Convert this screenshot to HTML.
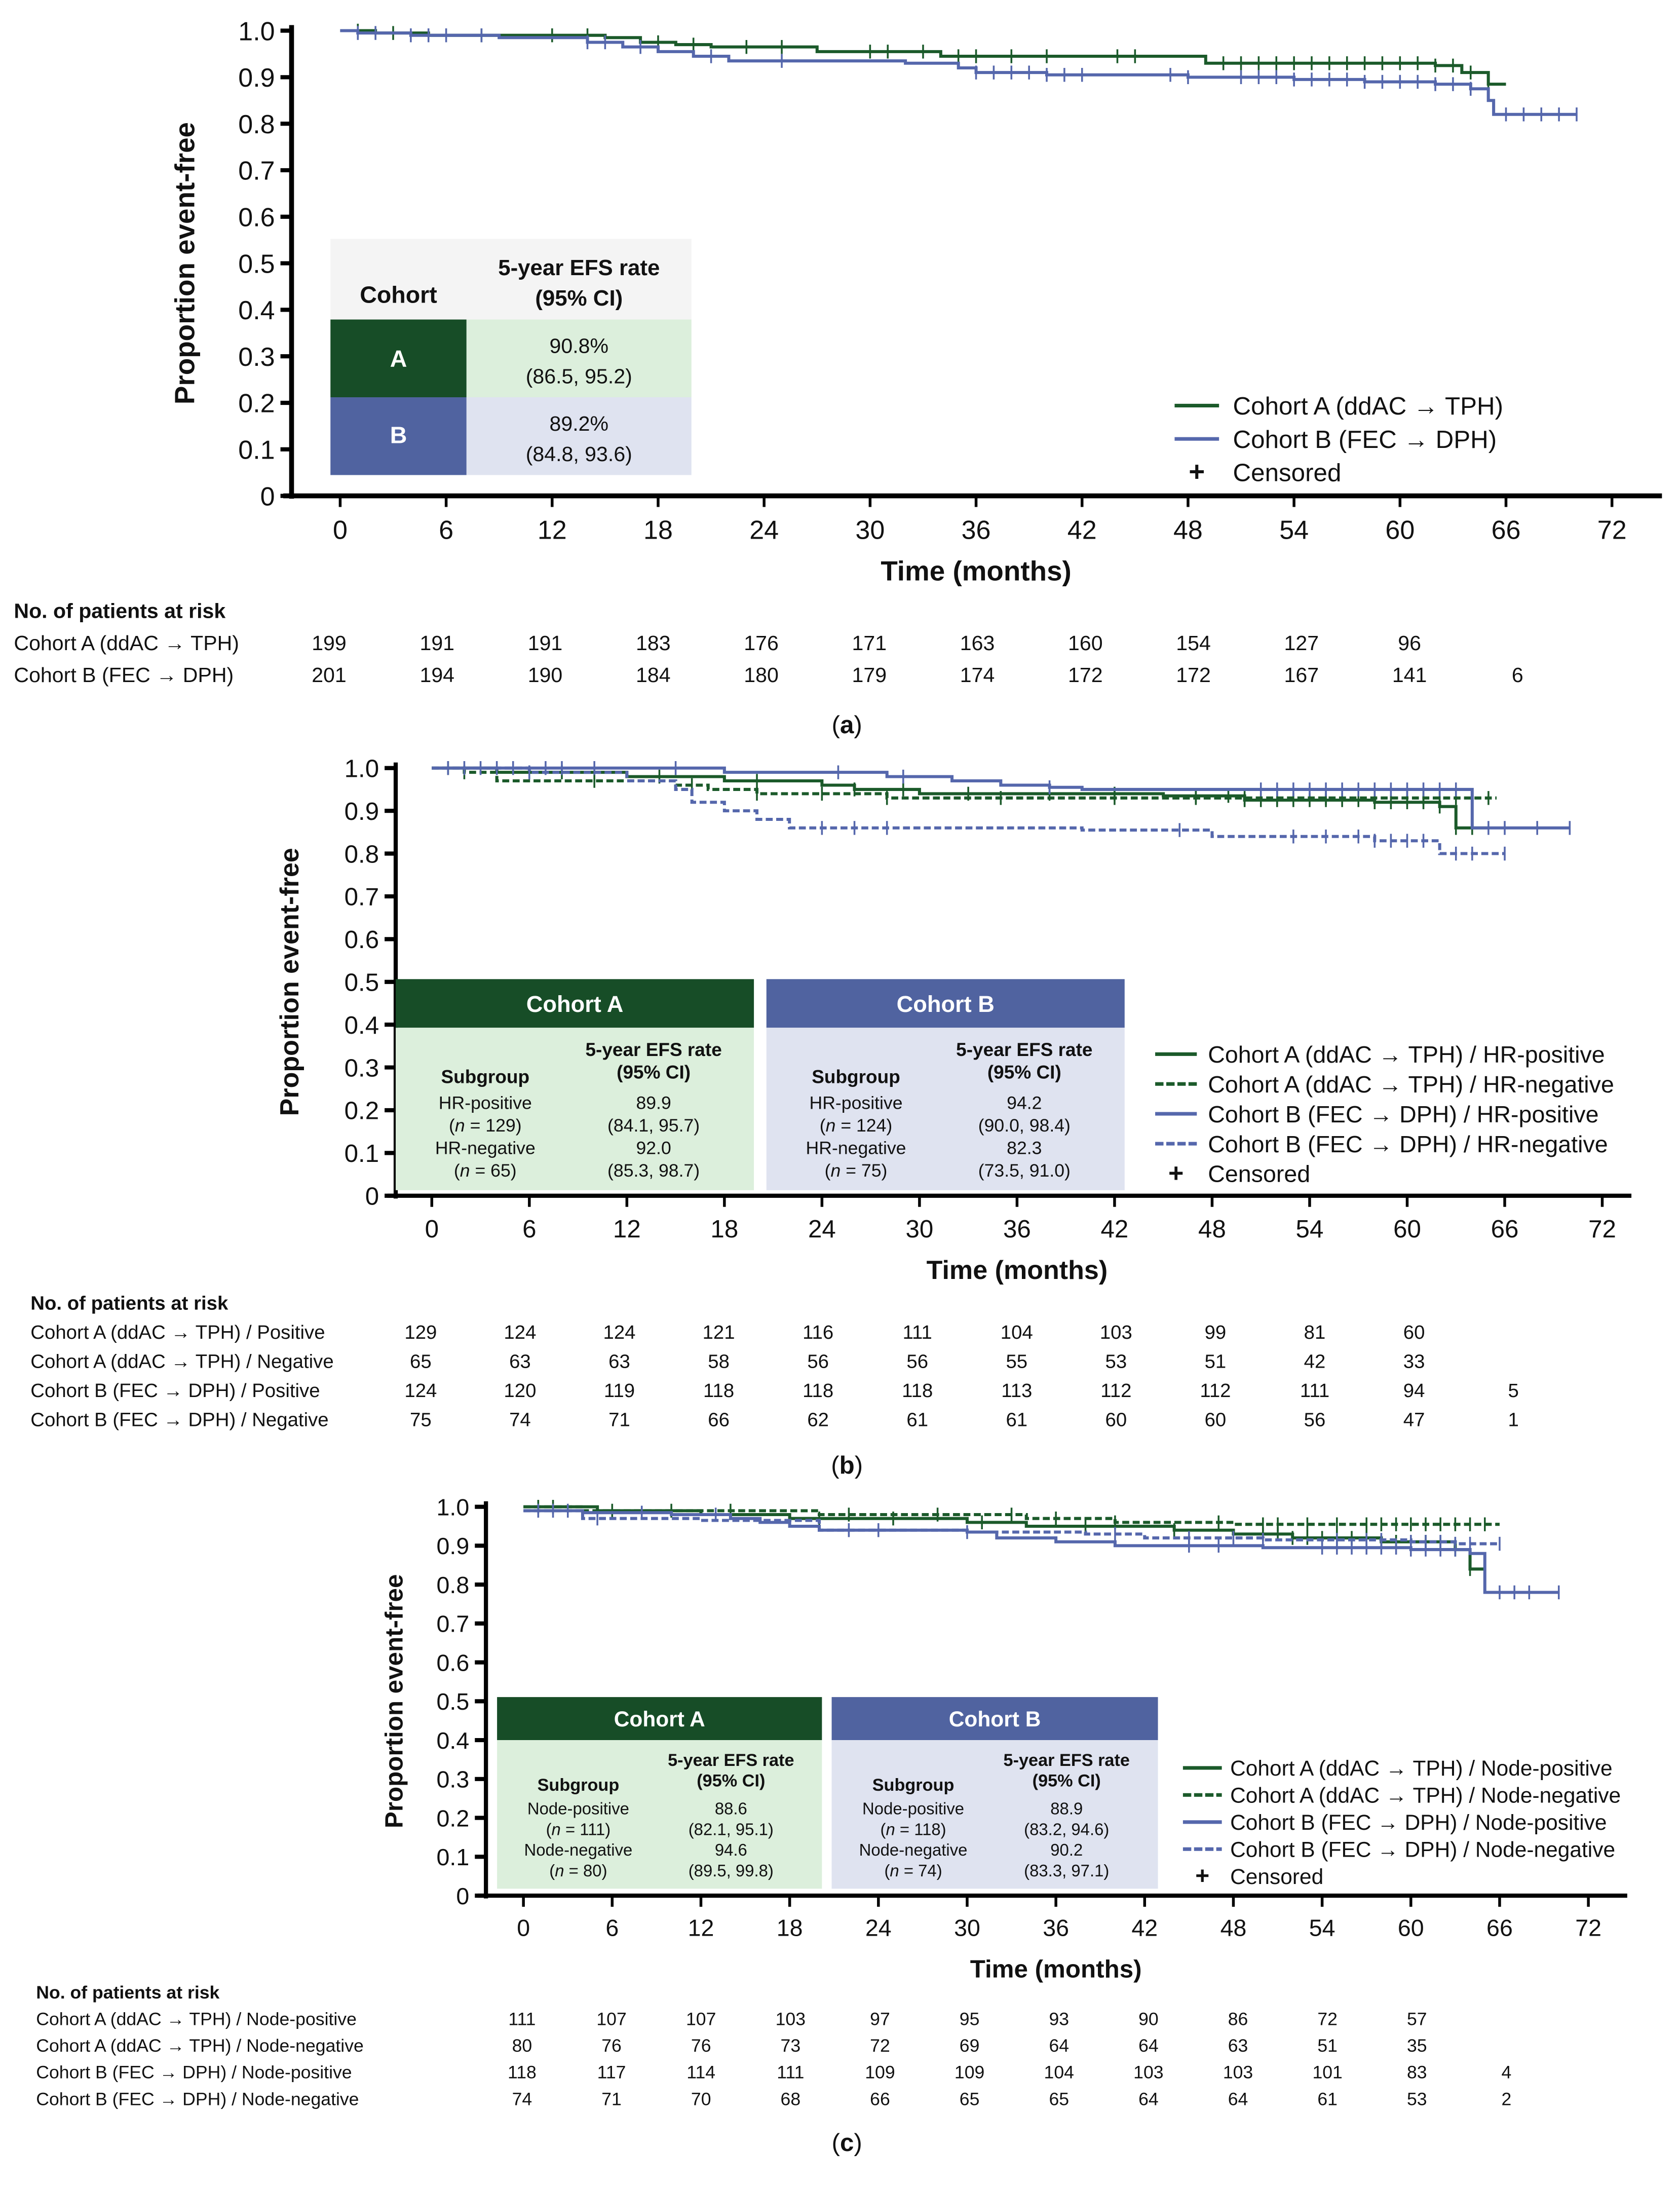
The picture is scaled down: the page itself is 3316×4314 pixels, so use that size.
<!DOCTYPE html>
<html><head><meta charset="utf-8"><style>
html,body{margin:0;padding:0;background:#fff;width:3316px;height:4314px;overflow:hidden}
svg{display:block}
text{font-family:"Liberation Sans",sans-serif;fill:#111}
</style></head><body>
<svg id="fig" xmlns="http://www.w3.org/2000/svg" width="3316" height="4314" viewBox="0 0 1210 1574"></svg>
<script>
// ===== Panel data =====
const ticksX=[0,6,12,18,24,30,36,42,48,54,60,66,72];
const ticksY=[0,0.1,0.2,0.3,0.4,0.5,0.6,0.7,0.8,0.9,1.0];
// Panel a
const aTimesA=[0,2,5,15,17,19,21,27,34,49,62,63.5,65];
const aValsA=[1,0.995,0.99,0.985,0.975,0.97,0.965,0.955,0.945,0.93,0.925,0.91,0.885];
const aCensA=[1,3,8,12,14,18,20,23,25,30,31,33,35,36,38,40,44,45,50,51,52,53,54,55,56,57,58,59,60,61,62,63,64,65];
const aTimesB=[0,1,4,9,14,16,18,20,22,32,35,36,40,48,54,58,62,64,65,65.3];
const aValsB=[1,0.995,0.99,0.985,0.975,0.965,0.955,0.945,0.935,0.93,0.92,0.91,0.905,0.9,0.895,0.89,0.885,0.875,0.85,0.82];
const aEndB=70;
const aCensB=[1,2,4,5,6,8,14,15,17,21,25,36,37,38,39,40,41,42,47,48,51,52,53,54,55,56,57,58,59,60,61,62,63,64,66,67,68,69,70];
const aRiskA=["199","191","191","183","176","171","163","160","154","127","96",""];
const aRiskB=["201","194","190","184","180","179","174","172","172","167","141","6"];
// Panel b
const bT1=[0,4,12,18,24,26,30,45,50,58,62,63],bV1=[1,0.99,0.98,0.97,0.96,0.95,0.94,0.935,0.925,0.92,0.91,0.86];
const bT2=[0,2,4,15,17,20,28],bV2=[1,0.99,0.97,0.96,0.95,0.94,0.93];
const bT3=[0,12,18,28,32,35,38,40,64],bV3=[1,1.0,0.99,0.98,0.97,0.96,0.955,0.95,0.86];
const bT4=[0,6,12,15,16,18,20,22,40,48,58,62],bV4=[1,0.99,0.97,0.95,0.92,0.9,0.88,0.86,0.855,0.84,0.83,0.8];
const bEnd=[65,65.5,70,66];
const bCens1=[1,8,14,20,26,29,33,38,42,47,49,50,51,52,53,54,55,56,57,58,59,60,61,62,63,64];
const bCens2=[2,10,16,20,24,28,35,42,47,50,52,55,58,60,61,62,63,64,65];
const bCens3=[1,3,5,7,8,10,15,25,29,38,51,52,53,54,55,56,57,58,59,60,61,62,63,65,66,68,70];
const bCens4=[2,4,6,24,26,28,46,53,55,57,58,59,60,61,63,64,66];
const bRisk1=["129","124","124","121","116","111","104","103","99","81","60",""];
const bRisk2=["65","63","63","58","56","56","55","53","51","42","33",""];
const bRisk3=["124","120","119","118","118","118","113","112","112","111","94","5"];
const bRisk4=["75","74","71","66","62","61","61","60","60","56","47","1"];
// Panel c
const cT1=[0,5,12,18,30,34,44,48,52,58,63,64],cV1=[1,0.99,0.98,0.97,0.96,0.95,0.94,0.93,0.92,0.91,0.89,0.84];
const cT2=[0,4,15,20,34,40,48],cV2=[1,0.99,0.99,0.98,0.97,0.96,0.955];
const cT3=[0,4,10,14,16,18,20,30,32,36,40,50,60,64,65],cV3=[0.99,0.985,0.98,0.97,0.96,0.95,0.94,0.935,0.92,0.91,0.9,0.895,0.89,0.88,0.78];
const cT4=[0,4,12,20,30,38,42,50,60,63],cV4=[0.99,0.97,0.965,0.94,0.935,0.93,0.92,0.915,0.91,0.905];
const cEnd=[65,66,70,66];
const cCens1=[2,10,20,25,31,38,44,50,51,52,53,54,55,56,57,58,59,60,61,62,63,64,65];
const cCens2=[1,6,14,22,28,33,36,40,47,50,51,53,55,57,58,59,60,61,62,63,64,65];
const cCens3=[1,3,8,13,22,30,45,47,54,55,56,57,58,59,60,61,62,63,66,67,68,70];
const cCens4=[2,5,24,40,45,48,50,55,57,58,60,61,62,63,64,66];
const cRisk1=["111","107","107","103","97","95","93","90","86","72","57",""];
const cRisk2=["80","76","76","73","72","69","64","64","63","51","35",""];
const cRisk3=["118","117","114","111","109","109","104","103","103","101","83","4"];
const cRisk4=["74","71","70","68","66","65","65","64","64","61","53","2"];

const GREEN="#1b5a2a",BLUE="#5567ac";
const NS="http://www.w3.org/2000/svg";
const fig=document.getElementById('fig');
function el(tag,attrs,parent,txt){const e=document.createElementNS(NS,tag);for(const k in attrs)e.setAttribute(k,attrs[k]);if(txt!==undefined)e.textContent=txt;(parent||fig).appendChild(e);return e;}

function panel(P){
  const g=el('g',{},fig);
  
  
  const X=t=>P.x0+(P.x72-P.x0)*t/72;
  const Y=v=>P.y0+(P.y1-P.y0)*v;
  // axes
  const ax=el('line',{x1:P.ax,y1:P.y1-4,x2:P.ax,y2:P.y0+2,stroke:'#000','stroke-width':P.aw},g);
  
  const xa=el('line',{x1:P.ax-6,y1:P.y0,x2:P.xend,y2:P.y0,stroke:'#000','stroke-width':P.aw},g);
  
  ticksX.forEach(t=>{
    el('line',{x1:X(t),y1:P.y0,x2:X(t),y2:P.y0+8,stroke:'#000','stroke-width':2},g);
    const tl=el('text',{x:X(t),y:P.y0+P.fs+12,'font-size':P.fs,'text-anchor':'middle'},g,String(t));
    
  });
  ticksY.forEach(v=>{
    el('line',{x1:P.ax-8,y1:Y(v),x2:P.ax,y2:Y(v),stroke:'#000','stroke-width':3},g);
    const tl=el('text',{x:P.ax-12,y:Y(v)+P.fs*0.36,'font-size':P.fs,'text-anchor':'end'},g,v===0?'0':v.toFixed(1));
    
  });
  const xt=el('text',{x:(X(0)+X(72))/2,y:P.y0+P.fs+42,'font-size':P.fs+1,'font-weight':'bold','text-anchor':'middle'},g,'Time (months)');
  
  const yt=el('text',{x:0,y:0,'font-size':P.fs+1,'font-weight':'bold','text-anchor':'middle',transform:`translate(${P.ylx},${Y(0.5)}) rotate(-90)`},g,'Proportion event-free');
  
  // tables
  P.table(g);
  // curves
  P.series.forEach(s=>{
    let d=`M${X(s.t[0])},${Y(s.v[0])}`;
    for(let i=1;i<s.t.length;i++){d+=`H${X(s.t[i])}V${Y(s.v[i])}`;}
    d+=`H${X(s.end)}`;
    const p=el('path',{d,fill:'none',stroke:s.c,'stroke-width':2.2,'stroke-dasharray':s.dash?'5,2.5':'none'},g);
    
    const val=t=>{let v=s.v[0];for(let i=0;i<s.t.length;i++)if(s.t[i]<=t)v=s.v[i];return v;};
    s.cens.forEach(t=>{
      const m=el('line',{x1:X(t),y1:Y(val(t))-5,x2:X(t),y2:Y(val(t))+5,stroke:s.c,'stroke-width':1.3},g);
      
    });
  });
  // legend
  P.legend.forEach((L,i)=>{
    const y=P.lgY+i*P.lgDy;
    const lg=el('g',{},g);
    
    el('line',{x1:P.lgX,y1:y,x2:P.lgX+P.lgW,y2:y,stroke:L.c,'stroke-width':2.6,'stroke-dasharray':L.dash?'6,2':'none'},lg);
    el('text',{x:P.lgT,y:y+P.lfs*0.36,'font-size':P.lfs},lg,L.label);
  });
  const cy=P.lgY+P.legend.length*P.lgDy;
  const ce=el('g',{},g);
  
  el('text',{x:P.lgX+P.lgW/2,y:cy+P.lfs*0.36,'font-size':P.lfs+2,'font-weight':'bold','text-anchor':'middle'},ce,'+');
  el('text',{x:P.lgT,y:cy+P.lfs*0.36,'font-size':P.lfs},ce,'Censored');
  // risk table
  const rt=el('g',{},g);
  
  el('text',{x:P.rx,y:P.ry,'font-size':P.rfs,'font-weight':'bold'},rt,'No. of patients at risk');
  P.risk.forEach((r,i)=>{
    const y=P.ry+(i+1)*P.rdy;
    el('text',{x:P.rx,y,'font-size':P.rfs},rt,r.label);
    r.vals.forEach((v,j)=>{ if(v) el('text',{x:P.rcx[0]+(P.rcx[1]-P.rcx[0])*j/11,y,'font-size':P.rfs,'text-anchor':'middle'},rt,v); });
  });
  const cap=el('text',{x:610,y:P.capY,'font-size':18,'font-family':'Liberation Serif','text-anchor':'middle'},g);
  
  cap.innerHTML=`(<tspan font-weight="bold">${P.cap}</tspan>)`;
}

function rect(g,x,y,w,h,f){el('rect',{x,y,width:w,height:h,fill:f},g);}
function tx(g,x,y,s,fs,opt){const o=Object.assign({x,y,'font-size':fs,'text-anchor':'middle'},opt||{});return el('text',o,g,s);}

function subTable(g,x,w,yh,hh,yb,bh,title,dark,light,rows,fs){
  const t=el('g',{},g);
  
  
  rect(t,x,yh,w,hh,dark);rect(t,x,yb,w,bh,light);
  tx(t,x+w/2,yh+hh/2+fs*0.45,title,fs+3,{'font-weight':'bold',style:'fill:#fff'});
  const c1=x+w*0.25,c2=x+w*0.72;
  const r=bh/7.2;
  tx(t,c2,yb+r*1.25,'5-year EFS rate',fs,{'font-weight':'bold'});
  tx(t,c2,yb+r*2.25,'(95% CI)',fs,{'font-weight':'bold'});
  tx(t,c1,yb+r*2.45,'Subgroup',fs,{'font-weight':'bold'});
  rows.forEach((rw,i)=>{
    const y0=yb+r*(3.6+i*2);
    tx(t,c1,y0,rw[0],fs-0.5);
    const n=tx(t,c1,y0+r,'',fs-0.5);n.innerHTML=`(<tspan font-style="italic">n</tspan> = ${rw[1]})`;
    tx(t,c2,y0,rw[2],fs-0.5);tx(t,c2,y0+r,rw[3],fs-0.5);
  });
}

// Panel a
panel({name:'panel-a',x0:245,x72:1161,y0:357,y1:22,ax:210,aw:3.5,xend:1197,fs:19,ylx:140,
  table:g=>{
    const t=el('g',{},g);
    
    rect(t,238,172,260,58,'#f4f4f4');
    rect(t,238,230,98,56,'#174d27');rect(t,336,230,162,56,'#dcefdc');
    rect(t,238,286,98,56,'#5063a0');rect(t,336,286,162,56,'#dfe3f0');
    tx(t,287,218,'Cohort',17,{'font-weight':'bold'});
    tx(t,417,198,'5-year EFS rate',16,{'font-weight':'bold'});
    tx(t,417,220,'(95% CI)',16,{'font-weight':'bold'});
    tx(t,287,264,'A',17,{'font-weight':'bold',style:'fill:#fff'});
    tx(t,287,319,'B',17,{'font-weight':'bold',style:'fill:#fff'});
    tx(t,417,254,'90.8%',15);tx(t,417,276,'(86.5, 95.2)',15);
    tx(t,417,310,'89.2%',15);tx(t,417,332,'(84.8, 93.6)',15);
  },
  series:[
    {nm:'curve-cohort-a',t:aTimesA,v:aValsA,end:66,c:GREEN,cens:aCensA},
    {nm:'curve-cohort-b',t:aTimesB,v:aValsB,end:aEndB,c:BLUE,cens:aCensB}],
  legend:[{c:GREEN,label:'Cohort A (ddAC \u2192 TPH)'},{c:BLUE,label:'Cohort B (FEC \u2192 DPH)'}],
  lgX:846,lgW:32,lgT:888,lgY:292,lgDy:24,lfs:18,
  rx:10,ry:445,rdy:23,rfs:15,rcx:[237,1093],
  risk:[{label:'Cohort A (ddAC \u2192 TPH)',vals:aRiskA},{label:'Cohort B (FEC \u2192 DPH)',vals:aRiskB}],
  capY:528,cap:'a'});

// Panel b
panel({name:'panel-b',x0:311,x72:1154,y0:861,y1:553,ax:285,aw:3,xend:1175,fs:18,ylx:215,
  table:g=>{
    subTable(g,285,258,705,35,740,117,'Cohort A','#174d27','#dcefdc',[['HR-positive','129','89.9','(84.1, 95.7)'],['HR-negative','65','92.0','(85.3, 98.7)']],13.5);
    subTable(g,552,258,705,35,740,117,'Cohort B','#5063a0','#dfe3f0',[['HR-positive','124','94.2','(90.0, 98.4)'],['HR-negative','75','82.3','(73.5, 91.0)']],13.5);
  },
  series:[
    {nm:'curve-a-hr-positive',t:bT1,v:bV1,end:bEnd[0],c:GREEN,cens:bCens1},
    {nm:'curve-a-hr-negative',t:bT2,v:bV2,end:bEnd[1],c:GREEN,dash:1,cens:bCens2},
    {nm:'curve-b-hr-positive',t:bT3,v:bV3,end:bEnd[2],c:BLUE,cens:bCens3},
    {nm:'curve-b-hr-negative',t:bT4,v:bV4,end:bEnd[3],c:BLUE,dash:1,cens:bCens4}],
  legend:[{c:GREEN,label:'Cohort A (ddAC \u2192 TPH) / HR-positive'},{c:GREEN,dash:1,label:'Cohort A (ddAC \u2192 TPH) / HR-negative'},
    {c:BLUE,label:'Cohort B (FEC \u2192 DPH) / HR-positive'},{c:BLUE,dash:1,label:'Cohort B (FEC \u2192 DPH) / HR-negative'}],
  lgX:832,lgW:30,lgT:870,lgY:759,lgDy:21.5,lfs:17,
  rx:22,ry:943,rdy:21,rfs:14,rcx:[303,1090],
  risk:[{label:'Cohort A (ddAC \u2192 TPH) / Positive',vals:bRisk1},{label:'Cohort A (ddAC \u2192 TPH) / Negative',vals:bRisk2},
    {label:'Cohort B (FEC \u2192 DPH) / Positive',vals:bRisk3},{label:'Cohort B (FEC \u2192 DPH) / Negative',vals:bRisk4}],
  capY:1061,cap:'b'});

// Panel c
panel({name:'panel-c',x0:377,x72:1144,y0:1365,y1:1085,ax:350,aw:3,xend:1172,fs:17,ylx:290,
  table:g=>{
    subTable(g,358,234,1222,31,1253,107,'Cohort A','#174d27','#dcefdc',[['Node-positive','111','88.6','(82.1, 95.1)'],['Node-negative','80','94.6','(89.5, 99.8)']],12.5);
    subTable(g,599,235,1222,31,1253,107,'Cohort B','#5063a0','#dfe3f0',[['Node-positive','118','88.9','(83.2, 94.6)'],['Node-negative','74','90.2','(83.3, 97.1)']],12.5);
  },
  series:[
    {nm:'curve-a-node-positive',t:cT1,v:cV1,end:cEnd[0],c:GREEN,cens:cCens1},
    {nm:'curve-a-node-negative',t:cT2,v:cV2,end:cEnd[1],c:GREEN,dash:1,cens:cCens2},
    {nm:'curve-b-node-positive',t:cT3,v:cV3,end:cEnd[2],c:BLUE,cens:cCens3},
    {nm:'curve-b-node-negative',t:cT4,v:cV4,end:cEnd[3],c:BLUE,dash:1,cens:cCens4}],
  legend:[{c:GREEN,label:'Cohort A (ddAC \u2192 TPH) / Node-positive'},{c:GREEN,dash:1,label:'Cohort A (ddAC \u2192 TPH) / Node-negative'},
    {c:BLUE,label:'Cohort B (FEC \u2192 DPH) / Node-positive'},{c:BLUE,dash:1,label:'Cohort B (FEC \u2192 DPH) / Node-negative'}],
  lgX:852,lgW:28,lgT:886,lgY:1273,lgDy:19.5,lfs:15.5,
  rx:26,ry:1439,rdy:19.2,rfs:13,rcx:[376,1085],
  risk:[{label:'Cohort A (ddAC \u2192 TPH) / Node-positive',vals:cRisk1},{label:'Cohort A (ddAC \u2192 TPH) / Node-negative',vals:cRisk2},
    {label:'Cohort B (FEC \u2192 DPH) / Node-positive',vals:cRisk3},{label:'Cohort B (FEC \u2192 DPH) / Node-negative',vals:cRisk4}],
  capY:1549,cap:'c'});
</script>
</body></html>
